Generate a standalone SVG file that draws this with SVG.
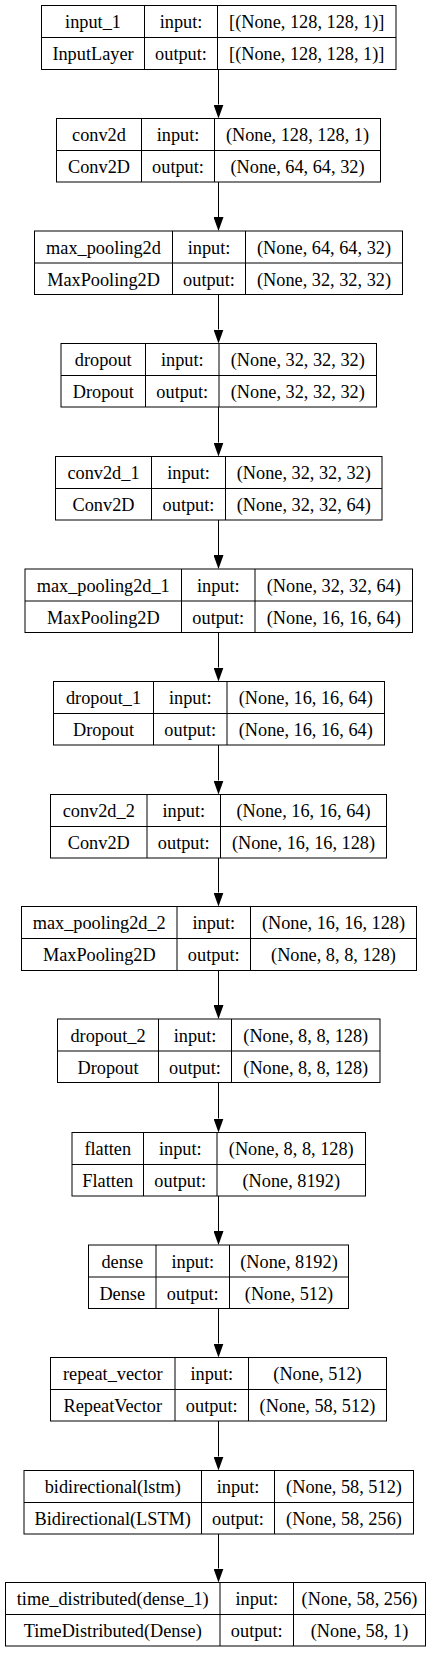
<svg xmlns="http://www.w3.org/2000/svg" width="438" height="1653" viewBox="0 0 438 1653">
<style>
.box{fill:#fff;stroke:#000;stroke-width:1}
.ln{stroke:#000;stroke-width:1}
.edge{stroke:#000;stroke-width:1;fill:none;marker-end:url(#arr)}
</style>
<defs>
<marker id="arr" markerUnits="userSpaceOnUse" markerWidth="14" markerHeight="10" viewBox="0 0 14 10" refX="0" refY="5" orient="auto">
<path d="M0,0 L14,5 L0,10 z" fill="#000"/>
</marker>
</defs>
<rect width="438" height="1653" fill="#fff"/>
<g id="connectors">
<line class="edge" x1="218.5" y1="69.5" x2="218.5" y2="104.5"/>
<line class="edge" x1="218.5" y1="182" x2="218.5" y2="217"/>
<line class="edge" x1="218.5" y1="294.5" x2="218.5" y2="329.5"/>
<line class="edge" x1="218.5" y1="407" x2="218.5" y2="442.5"/>
<line class="edge" x1="218.5" y1="520" x2="218.5" y2="555"/>
<line class="edge" x1="218.5" y1="632.5" x2="218.5" y2="667.5"/>
<line class="edge" x1="218.5" y1="745" x2="218.5" y2="780.5"/>
<line class="edge" x1="218.5" y1="858" x2="218.5" y2="892.5"/>
<line class="edge" x1="218.5" y1="970.5" x2="218.5" y2="1005"/>
<line class="edge" x1="218.5" y1="1082.5" x2="218.5" y2="1118.5"/>
<line class="edge" x1="218.5" y1="1196" x2="218.5" y2="1231"/>
<line class="edge" x1="218.5" y1="1308.5" x2="218.5" y2="1343.5"/>
<line class="edge" x1="218.5" y1="1421" x2="218.5" y2="1456.5"/>
<line class="edge" x1="218.5" y1="1534" x2="218.5" y2="1568.5"/>
</g>
<g id="input_1">
<rect class="box" x="41.5" y="5.5" width="354.5" height="64"/>
<line class="ln" x1="41.5" y1="37.5" x2="396" y2="37.5"/>
<line class="ln" x1="144.5" y1="5.5" x2="144.5" y2="69.5"/>
<line class="ln" x1="217.5" y1="5.5" x2="217.5" y2="69.5"/>
<text font-family="Liberation Serif" font-size="18.3" text-anchor="middle" x="93" y="28">input_1</text>
<text font-family="Liberation Serif" font-size="18.3" text-anchor="middle" x="181" y="28">input:</text>
<text font-family="Liberation Serif" font-size="18.3" text-anchor="middle" x="306.75" y="28">[(None, 128, 128, 1)]</text>
<text font-family="Liberation Serif" font-size="18.3" text-anchor="middle" x="93" y="60">InputLayer</text>
<text font-family="Liberation Serif" font-size="18.3" text-anchor="middle" x="181" y="60">output:</text>
<text font-family="Liberation Serif" font-size="18.3" text-anchor="middle" x="306.75" y="60">[(None, 128, 128, 1)]</text>
</g>
<g id="conv2d">
<rect class="box" x="56.5" y="118.5" width="324" height="63.5"/>
<line class="ln" x1="56.5" y1="150.5" x2="380.5" y2="150.5"/>
<line class="ln" x1="141.5" y1="118.5" x2="141.5" y2="182"/>
<line class="ln" x1="214.5" y1="118.5" x2="214.5" y2="182"/>
<text font-family="Liberation Serif" font-size="18.3" text-anchor="middle" x="99" y="141">conv2d</text>
<text font-family="Liberation Serif" font-size="18.3" text-anchor="middle" x="178" y="141">input:</text>
<text font-family="Liberation Serif" font-size="18.3" text-anchor="middle" x="297.5" y="141">(None, 128, 128, 1)</text>
<text font-family="Liberation Serif" font-size="18.3" text-anchor="middle" x="99" y="173">Conv2D</text>
<text font-family="Liberation Serif" font-size="18.3" text-anchor="middle" x="178" y="173">output:</text>
<text font-family="Liberation Serif" font-size="18.3" text-anchor="middle" x="297.5" y="173">(None, 64, 64, 32)</text>
</g>
<g id="max_pooling2d">
<rect class="box" x="34.5" y="231" width="368" height="63.5"/>
<line class="ln" x1="34.5" y1="263" x2="402.5" y2="263"/>
<line class="ln" x1="172.5" y1="231" x2="172.5" y2="294.5"/>
<line class="ln" x1="245.5" y1="231" x2="245.5" y2="294.5"/>
<text font-family="Liberation Serif" font-size="18.3" text-anchor="middle" x="103.5" y="253.5">max_pooling2d</text>
<text font-family="Liberation Serif" font-size="18.3" text-anchor="middle" x="209" y="253.5">input:</text>
<text font-family="Liberation Serif" font-size="18.3" text-anchor="middle" x="324" y="253.5">(None, 64, 64, 32)</text>
<text font-family="Liberation Serif" font-size="18.3" text-anchor="middle" x="103.5" y="285.5">MaxPooling2D</text>
<text font-family="Liberation Serif" font-size="18.3" text-anchor="middle" x="209" y="285.5">output:</text>
<text font-family="Liberation Serif" font-size="18.3" text-anchor="middle" x="324" y="285.5">(None, 32, 32, 32)</text>
</g>
<g id="dropout">
<rect class="box" x="61" y="343.5" width="315.5" height="63.5"/>
<line class="ln" x1="61" y1="375.5" x2="376.5" y2="375.5"/>
<line class="ln" x1="145.5" y1="343.5" x2="145.5" y2="407"/>
<line class="ln" x1="219" y1="343.5" x2="219" y2="407"/>
<text font-family="Liberation Serif" font-size="18.3" text-anchor="middle" x="103.25" y="366">dropout</text>
<text font-family="Liberation Serif" font-size="18.3" text-anchor="middle" x="182.25" y="366">input:</text>
<text font-family="Liberation Serif" font-size="18.3" text-anchor="middle" x="297.75" y="366">(None, 32, 32, 32)</text>
<text font-family="Liberation Serif" font-size="18.3" text-anchor="middle" x="103.25" y="398">Dropout</text>
<text font-family="Liberation Serif" font-size="18.3" text-anchor="middle" x="182.25" y="398">output:</text>
<text font-family="Liberation Serif" font-size="18.3" text-anchor="middle" x="297.75" y="398">(None, 32, 32, 32)</text>
</g>
<g id="conv2d_1">
<rect class="box" x="55.5" y="456.5" width="326.5" height="63.5"/>
<line class="ln" x1="55.5" y1="488.5" x2="382" y2="488.5"/>
<line class="ln" x1="151.5" y1="456.5" x2="151.5" y2="520"/>
<line class="ln" x1="225.5" y1="456.5" x2="225.5" y2="520"/>
<text font-family="Liberation Serif" font-size="18.3" text-anchor="middle" x="103.5" y="479">conv2d_1</text>
<text font-family="Liberation Serif" font-size="18.3" text-anchor="middle" x="188.5" y="479">input:</text>
<text font-family="Liberation Serif" font-size="18.3" text-anchor="middle" x="303.75" y="479">(None, 32, 32, 32)</text>
<text font-family="Liberation Serif" font-size="18.3" text-anchor="middle" x="103.5" y="511">Conv2D</text>
<text font-family="Liberation Serif" font-size="18.3" text-anchor="middle" x="188.5" y="511">output:</text>
<text font-family="Liberation Serif" font-size="18.3" text-anchor="middle" x="303.75" y="511">(None, 32, 32, 64)</text>
</g>
<g id="max_pooling2d_1">
<rect class="box" x="25" y="569" width="387.5" height="63.5"/>
<line class="ln" x1="25" y1="601" x2="412.5" y2="601"/>
<line class="ln" x1="181.5" y1="569" x2="181.5" y2="632.5"/>
<line class="ln" x1="255" y1="569" x2="255" y2="632.5"/>
<text font-family="Liberation Serif" font-size="18.3" text-anchor="middle" x="103.25" y="591.5">max_pooling2d_1</text>
<text font-family="Liberation Serif" font-size="18.3" text-anchor="middle" x="218.25" y="591.5">input:</text>
<text font-family="Liberation Serif" font-size="18.3" text-anchor="middle" x="333.75" y="591.5">(None, 32, 32, 64)</text>
<text font-family="Liberation Serif" font-size="18.3" text-anchor="middle" x="103.25" y="623.5">MaxPooling2D</text>
<text font-family="Liberation Serif" font-size="18.3" text-anchor="middle" x="218.25" y="623.5">output:</text>
<text font-family="Liberation Serif" font-size="18.3" text-anchor="middle" x="333.75" y="623.5">(None, 16, 16, 64)</text>
</g>
<g id="dropout_1">
<rect class="box" x="53.5" y="681.5" width="331" height="63.5"/>
<line class="ln" x1="53.5" y1="713.5" x2="384.5" y2="713.5"/>
<line class="ln" x1="153.5" y1="681.5" x2="153.5" y2="745"/>
<line class="ln" x1="227" y1="681.5" x2="227" y2="745"/>
<text font-family="Liberation Serif" font-size="18.3" text-anchor="middle" x="103.5" y="704">dropout_1</text>
<text font-family="Liberation Serif" font-size="18.3" text-anchor="middle" x="190.25" y="704">input:</text>
<text font-family="Liberation Serif" font-size="18.3" text-anchor="middle" x="305.75" y="704">(None, 16, 16, 64)</text>
<text font-family="Liberation Serif" font-size="18.3" text-anchor="middle" x="103.5" y="736">Dropout</text>
<text font-family="Liberation Serif" font-size="18.3" text-anchor="middle" x="190.25" y="736">output:</text>
<text font-family="Liberation Serif" font-size="18.3" text-anchor="middle" x="305.75" y="736">(None, 16, 16, 64)</text>
</g>
<g id="conv2d_2">
<rect class="box" x="50.5" y="794.5" width="336" height="63.5"/>
<line class="ln" x1="50.5" y1="826.5" x2="386.5" y2="826.5"/>
<line class="ln" x1="147" y1="794.5" x2="147" y2="858"/>
<line class="ln" x1="220.5" y1="794.5" x2="220.5" y2="858"/>
<text font-family="Liberation Serif" font-size="18.3" text-anchor="middle" x="98.75" y="817">conv2d_2</text>
<text font-family="Liberation Serif" font-size="18.3" text-anchor="middle" x="183.75" y="817">input:</text>
<text font-family="Liberation Serif" font-size="18.3" text-anchor="middle" x="303.5" y="817">(None, 16, 16, 64)</text>
<text font-family="Liberation Serif" font-size="18.3" text-anchor="middle" x="98.75" y="849">Conv2D</text>
<text font-family="Liberation Serif" font-size="18.3" text-anchor="middle" x="183.75" y="849">output:</text>
<text font-family="Liberation Serif" font-size="18.3" text-anchor="middle" x="303.5" y="849">(None, 16, 16, 128)</text>
</g>
<g id="max_pooling2d_2">
<rect class="box" x="21.5" y="906.5" width="395" height="64"/>
<line class="ln" x1="21.5" y1="938.5" x2="416.5" y2="938.5"/>
<line class="ln" x1="177" y1="906.5" x2="177" y2="970.5"/>
<line class="ln" x1="250.5" y1="906.5" x2="250.5" y2="970.5"/>
<text font-family="Liberation Serif" font-size="18.3" text-anchor="middle" x="99.25" y="929">max_pooling2d_2</text>
<text font-family="Liberation Serif" font-size="18.3" text-anchor="middle" x="213.75" y="929">input:</text>
<text font-family="Liberation Serif" font-size="18.3" text-anchor="middle" x="333.5" y="929">(None, 16, 16, 128)</text>
<text font-family="Liberation Serif" font-size="18.3" text-anchor="middle" x="99.25" y="961">MaxPooling2D</text>
<text font-family="Liberation Serif" font-size="18.3" text-anchor="middle" x="213.75" y="961">output:</text>
<text font-family="Liberation Serif" font-size="18.3" text-anchor="middle" x="333.5" y="961">(None, 8, 8, 128)</text>
</g>
<g id="dropout_2">
<rect class="box" x="57.5" y="1019" width="322.5" height="63.5"/>
<line class="ln" x1="57.5" y1="1051" x2="380" y2="1051"/>
<line class="ln" x1="158.5" y1="1019" x2="158.5" y2="1082.5"/>
<line class="ln" x1="231.5" y1="1019" x2="231.5" y2="1082.5"/>
<text font-family="Liberation Serif" font-size="18.3" text-anchor="middle" x="108" y="1041.5">dropout_2</text>
<text font-family="Liberation Serif" font-size="18.3" text-anchor="middle" x="195" y="1041.5">input:</text>
<text font-family="Liberation Serif" font-size="18.3" text-anchor="middle" x="305.75" y="1041.5">(None, 8, 8, 128)</text>
<text font-family="Liberation Serif" font-size="18.3" text-anchor="middle" x="108" y="1073.5">Dropout</text>
<text font-family="Liberation Serif" font-size="18.3" text-anchor="middle" x="195" y="1073.5">output:</text>
<text font-family="Liberation Serif" font-size="18.3" text-anchor="middle" x="305.75" y="1073.5">(None, 8, 8, 128)</text>
</g>
<g id="flatten">
<rect class="box" x="72" y="1132.5" width="293.5" height="63.5"/>
<line class="ln" x1="72" y1="1164.5" x2="365.5" y2="1164.5"/>
<line class="ln" x1="143.5" y1="1132.5" x2="143.5" y2="1196"/>
<line class="ln" x1="217" y1="1132.5" x2="217" y2="1196"/>
<text font-family="Liberation Serif" font-size="18.3" text-anchor="middle" x="107.75" y="1155">flatten</text>
<text font-family="Liberation Serif" font-size="18.3" text-anchor="middle" x="180.25" y="1155">input:</text>
<text font-family="Liberation Serif" font-size="18.3" text-anchor="middle" x="291.25" y="1155">(None, 8, 8, 128)</text>
<text font-family="Liberation Serif" font-size="18.3" text-anchor="middle" x="107.75" y="1187">Flatten</text>
<text font-family="Liberation Serif" font-size="18.3" text-anchor="middle" x="180.25" y="1187">output:</text>
<text font-family="Liberation Serif" font-size="18.3" text-anchor="middle" x="291.25" y="1187">(None, 8192)</text>
</g>
<g id="dense">
<rect class="box" x="88.5" y="1245" width="260" height="63.5"/>
<line class="ln" x1="88.5" y1="1277" x2="348.5" y2="1277"/>
<line class="ln" x1="156" y1="1245" x2="156" y2="1308.5"/>
<line class="ln" x1="229.5" y1="1245" x2="229.5" y2="1308.5"/>
<text font-family="Liberation Serif" font-size="18.3" text-anchor="middle" x="122.25" y="1267.5">dense</text>
<text font-family="Liberation Serif" font-size="18.3" text-anchor="middle" x="192.75" y="1267.5">input:</text>
<text font-family="Liberation Serif" font-size="18.3" text-anchor="middle" x="289" y="1267.5">(None, 8192)</text>
<text font-family="Liberation Serif" font-size="18.3" text-anchor="middle" x="122.25" y="1299.5">Dense</text>
<text font-family="Liberation Serif" font-size="18.3" text-anchor="middle" x="192.75" y="1299.5">output:</text>
<text font-family="Liberation Serif" font-size="18.3" text-anchor="middle" x="289" y="1299.5">(None, 512)</text>
</g>
<g id="repeat_vector">
<rect class="box" x="50.5" y="1357.5" width="336" height="63.5"/>
<line class="ln" x1="50.5" y1="1389.5" x2="386.5" y2="1389.5"/>
<line class="ln" x1="175" y1="1357.5" x2="175" y2="1421"/>
<line class="ln" x1="248.5" y1="1357.5" x2="248.5" y2="1421"/>
<text font-family="Liberation Serif" font-size="18.3" text-anchor="middle" x="112.75" y="1380">repeat_vector</text>
<text font-family="Liberation Serif" font-size="18.3" text-anchor="middle" x="211.75" y="1380">input:</text>
<text font-family="Liberation Serif" font-size="18.3" text-anchor="middle" x="317.5" y="1380">(None, 512)</text>
<text font-family="Liberation Serif" font-size="18.3" text-anchor="middle" x="112.75" y="1412">RepeatVector</text>
<text font-family="Liberation Serif" font-size="18.3" text-anchor="middle" x="211.75" y="1412">output:</text>
<text font-family="Liberation Serif" font-size="18.3" text-anchor="middle" x="317.5" y="1412">(None, 58, 512)</text>
</g>
<g id="bidirectional">
<rect class="box" x="24" y="1470.5" width="389.5" height="63.5"/>
<line class="ln" x1="24" y1="1502.5" x2="413.5" y2="1502.5"/>
<line class="ln" x1="201.5" y1="1470.5" x2="201.5" y2="1534"/>
<line class="ln" x1="274.5" y1="1470.5" x2="274.5" y2="1534"/>
<text font-family="Liberation Serif" font-size="18.3" text-anchor="middle" x="112.75" y="1493">bidirectional(lstm)</text>
<text font-family="Liberation Serif" font-size="18.3" text-anchor="middle" x="238" y="1493">input:</text>
<text font-family="Liberation Serif" font-size="18.3" text-anchor="middle" x="344" y="1493">(None, 58, 512)</text>
<text font-family="Liberation Serif" font-size="18.3" text-anchor="middle" x="112.75" y="1525">Bidirectional(LSTM)</text>
<text font-family="Liberation Serif" font-size="18.3" text-anchor="middle" x="238" y="1525">output:</text>
<text font-family="Liberation Serif" font-size="18.3" text-anchor="middle" x="344" y="1525">(None, 58, 256)</text>
</g>
<g id="time_distributed">
<rect class="box" x="5.5" y="1582.5" width="420" height="63.5"/>
<line class="ln" x1="5.5" y1="1614.5" x2="425.5" y2="1614.5"/>
<line class="ln" x1="220" y1="1582.5" x2="220" y2="1646"/>
<line class="ln" x1="293.5" y1="1582.5" x2="293.5" y2="1646"/>
<text font-family="Liberation Serif" font-size="18.3" text-anchor="middle" x="112.75" y="1605">time_distributed(dense_1)</text>
<text font-family="Liberation Serif" font-size="18.3" text-anchor="middle" x="256.75" y="1605">input:</text>
<text font-family="Liberation Serif" font-size="18.3" text-anchor="middle" x="359.5" y="1605">(None, 58, 256)</text>
<text font-family="Liberation Serif" font-size="18.3" text-anchor="middle" x="112.75" y="1637">TimeDistributed(Dense)</text>
<text font-family="Liberation Serif" font-size="18.3" text-anchor="middle" x="256.75" y="1637">output:</text>
<text font-family="Liberation Serif" font-size="18.3" text-anchor="middle" x="359.5" y="1637">(None, 58, 1)</text>
</g>
</svg>
